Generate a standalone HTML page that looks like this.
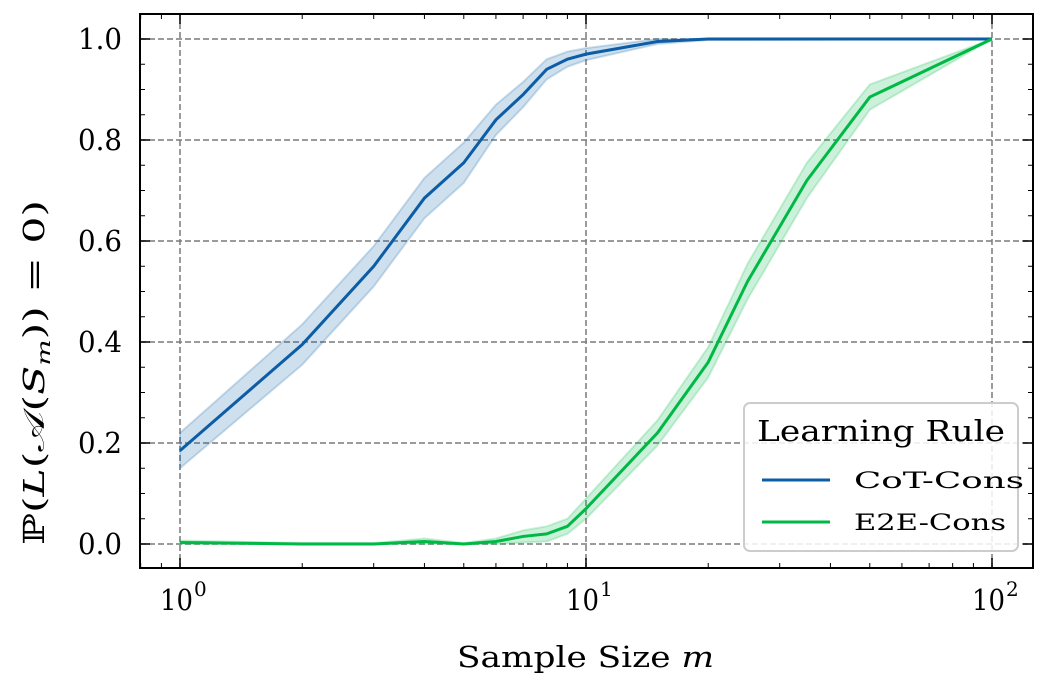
<!DOCTYPE html>
<html><head><meta charset="utf-8"><style>
body{margin:0;background:#fff}
svg text{font-family:"DejaVu Serif","Liberation Serif",serif;fill:#000}
</style></head><body>
<svg id="chart" width="1047" height="693" xmlns="http://www.w3.org/2000/svg">
<g id="grid"></g>
<g id="series"></g>
<g id="axes"></g>
<text x="457" y="667" font-size="29" textLength="257" lengthAdjust="spacingAndGlyphs">Sample Size <tspan font-style="italic">m</tspan></text>
<text transform="translate(44,545) rotate(-90)" font-size="29" textLength="345" lengthAdjust="spacingAndGlyphs">ℙ(<tspan font-style="italic">L</tspan>(𝒜(<tspan font-style="italic">S</tspan><tspan font-size="19" dy="6" font-style="italic">m</tspan><tspan dy="-6">)) = 0)</tspan></text>
<g>
<rect x="744" y="403" width="274" height="148" rx="6" fill="#fff" fill-opacity="0.85" stroke="#ccc" stroke-width="2"/>
<text x="757" y="441" font-size="29" textLength="248" lengthAdjust="spacingAndGlyphs">Learning Rule</text>
<line x1="762" y1="480" x2="830" y2="480" stroke="#0C5DA5" stroke-width="3"/>
<text x="854" y="488" font-size="22" textLength="170" lengthAdjust="spacingAndGlyphs">CoT-Cons</text>
<line x1="762" y1="522" x2="830" y2="522" stroke="#00B945" stroke-width="3"/>
<text x="854" y="530" font-size="22" textLength="152" lengthAdjust="spacingAndGlyphs">E2E-Cons</text>
</g>
</svg>
<script>
const cotM=[1,2,3,4,5,6,7,8,9,10,15,20,100];
const cotP=[0.185,0.395,0.55,0.685,0.755,0.84,0.89,0.94,0.96,0.97,0.995,1.0,1.0];
const cotErr=[0.035,0.04,0.04,0.04,0.04,0.03,0.025,0.02,0.015,0.012,0.005,0.002,0];
const e2eM=[1,2,3,4,5,6,7,8,9,10,15,20,25,35,50,100];
const e2eP=[0.003,0,0,0.005,0,0.005,0.015,0.02,0.035,0.07,0.22,0.36,0.52,0.72,0.885,1.0];
const e2eErr=[0.004,0.002,0.002,0.006,0.002,0.006,0.012,0.015,0.015,0.02,0.025,0.03,0.035,0.035,0.025,0];
const yTicks=[0,0.2,0.4,0.6,0.8,1.0];
const yLabels=["0.0","0.2","0.4","0.6","0.8","1.0"];
const xDecades=[0,1,2];
const L=140,R=1033,T=14,B=568;
const X=m=>180+406*Math.log10(m);
const Y=v=>544-505*v;
const NS="http://www.w3.org/2000/svg";
function mk(tag,attrs,parent){const e=document.createElementNS(NS,tag);for(const k in attrs)e.setAttribute(k,attrs[k]);parent.appendChild(e);return e;}
const grid=document.getElementById('grid'),series=document.getElementById('series'),axes=document.getElementById('axes');
yTicks.forEach(v=>{const l=mk('line',{x1:L,x2:R,y1:Y(v),y2:Y(v),stroke:'#7a7a7a','stroke-width':1.5,'stroke-dasharray':'6,3'},grid);

});
xDecades.forEach(d=>{const l=mk('line',{x1:X(10**d),x2:X(10**d),y1:T,y2:B,stroke:'#7a7a7a','stroke-width':1.5,'stroke-dasharray':'6,3'},grid);

});
function draw(ms,ps,es,color,name){
 let up=ms.map((m,i)=>X(m)+','+Y(Math.min(1,ps[i]+es[i]))),lo=ms.map((m,i)=>X(m)+','+Y(Math.max(0,ps[i]-es[i]))).reverse();
 const b=mk('polygon',{points:up.concat(lo).join(' '),fill:color,'fill-opacity':0.2,stroke:color,'stroke-opacity':0.2,'stroke-width':2},series);
 
 
 const l=mk('polyline',{points:ms.map((m,i)=>X(m)+','+Y(ps[i])).join(' '),fill:'none',stroke:color,'stroke-width':3},series);
 
 
}
draw(cotM,cotP,cotErr,'#0C5DA5','cot-cons');
draw(e2eM,e2eP,e2eErr,'#00B945','e2e-cons');
const fr=mk('rect',{x:L,y:T,width:R-L,height:B-T,fill:'none',stroke:'#000','stroke-width':2},axes);


yTicks.forEach((v,i)=>{mk('line',{x1:L,x2:L+10,y1:Y(v),y2:Y(v),stroke:'#000','stroke-width':1.5},axes);mk('line',{x1:R,x2:R-10,y1:Y(v),y2:Y(v),stroke:'#000','stroke-width':1.5},axes);
 const t=mk('text',{x:78,y:Y(v)+10,'font-size':29,textLength:44,lengthAdjust:'spacingAndGlyphs'},axes);t.textContent=yLabels[i];
 
 });
for(let v=-0.05;v<=1.05;v+=0.05){const yy=Y(v);if(yy<T||yy>B)continue;mk('line',{x1:L,x2:L+5,y1:yy,y2:yy,stroke:'#000','stroke-width':1},axes);mk('line',{x1:R,x2:R-5,y1:yy,y2:yy,stroke:'#000','stroke-width':1},axes);}
xDecades.forEach(d=>{const x=X(10**d);mk('line',{x1:x,x2:x,y1:B,y2:B-10,stroke:'#000','stroke-width':1.5},axes);mk('line',{x1:x,x2:x,y1:T,y2:T+10,stroke:'#000','stroke-width':1.5},axes);
 const t=mk('text',{x:x-20,y:610,'font-size':29,textLength:33,lengthAdjust:'spacingAndGlyphs'},axes);t.textContent='10';
 
 
 const s=mk('text',{x:x+14,y:596,'font-size':20},axes);s.textContent=String(d);});
for(let d=-1;d<=2;d++)for(let k=2;k<=9;k++){const x=X(k*10**d);if(x<L||x>R)continue;mk('line',{x1:x,x2:x,y1:B,y2:B-5,stroke:'#000','stroke-width':1},axes);mk('line',{x1:x,x2:x,y1:T,y2:T+5,stroke:'#000','stroke-width':1},axes);}
</script>
</body></html>
